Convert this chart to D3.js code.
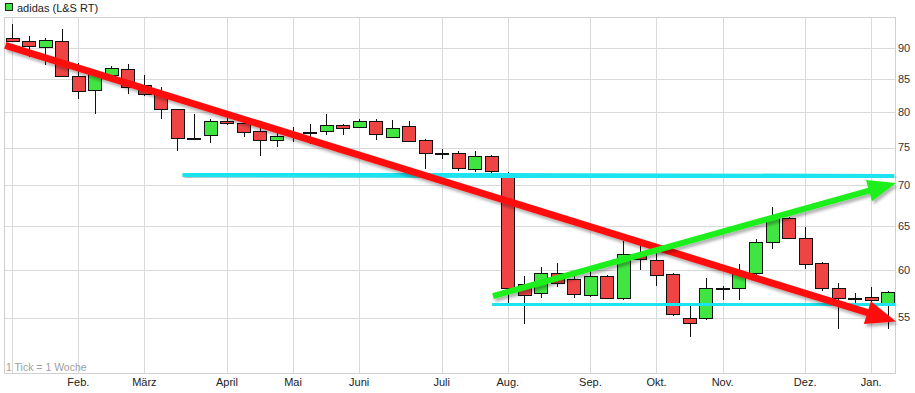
<!DOCTYPE html>
<html>
<head>
<meta charset="utf-8">
<script src="https://cdn.jsdelivr.net/npm/d3@7"></script>
<style>
    body { margin: 0; background: #fff; }
    svg { display: block; font-family: "Liberation Sans", Arial, sans-serif; }
</style>
</head>
<body>
<svg id="chart"></svg>
<script>
// weekly candles (1 Tick = 1 Woche)
const openP  = [91.7, 91.2, 90.2, 91.2, 85.5, 83.2, 85.7, 86.6, 84.1, 83.0, 80.5, 76.35, 76.7, 78.8, 78.5, 77.3, 76.1, 76.9, 77.2, 77.4, 78.2, 77.8, 78.7, 76.6, 78.0, 76.0, 74.2, 74.2, 72.2, 73.9, 71.6, 58.5, 57.6, 59.7, 59.0, 57.3, 59.3, 57.0, 61.6, 61.1, 59.5, 55.0, 54.9, 58.0, 58.0, 59.6, 63.1, 66.0, 63.6, 60.7, 58.0, 57.0, 57.1, 56.5];
const highP  = [94.0, 91.9, 91.55, 93.2, 87.5, 86.2, 87.1, 87.3, 85.6, 83.8, 80.5, 79.8, 79.0, 79.1, 78.8, 78.7, 77.2, 77.9, 78.3, 79.8, 78.3, 79.0, 79.0, 78.9, 78.8, 76.2, 74.8, 74.5, 74.6, 74.0, 71.7, 59.3, 60.3, 60.8, 59.4, 59.9, 59.4, 63.2, 62.9, 62.0, 59.7, 56.4, 59.1, 58.3, 60.6, 63.5, 67.3, 66.1, 64.9, 60.9, 58.6, 57.5, 58.1, 57.7];
const lowP   = [90.9, 88.5, 87.2, 85.3, 81.9, 79.8, 85.4, 82.7, 82.4, 79.0, 74.6, 76.0, 75.6, 78.2, 76.5, 73.9, 75.1, 75.8, 75.5, 76.8, 76.8, 77.7, 76.1, 76.3, 75.8, 72.1, 73.4, 71.9, 71.8, 71.6, 56.2, 54.4, 57.0, 58.2, 57.0, 57.1, 56.9, 56.8, 60.0, 58.3, 55.2, 53.1, 54.7, 56.8, 56.8, 59.4, 62.3, 63.5, 60.1, 57.7, 53.9, 56.5, 56.3, 53.9];
const closeP = [91.2, 90.4, 91.3, 85.5, 83.2, 85.9, 86.8, 83.8, 82.7, 80.5, 76.3, 76.3, 78.7, 78.5, 77.2, 76.1, 76.6, 76.9, 77.2, 78.2, 77.8, 78.7, 76.8, 77.8, 75.9, 74.2, 74.2, 72.2, 73.9, 71.9, 58.0, 57.3, 59.7, 58.6, 57.4, 59.3, 57.0, 61.8, 61.1, 59.4, 55.3, 54.5, 58.0, 58.0, 59.5, 63.1, 65.9, 63.6, 60.7, 58.0, 57.0, 57.0, 56.8, 57.6];

// first week of each month (week index) and its label
const monthIdx    = [0, 4, 8, 13, 17, 21, 26, 30, 35, 39, 43, 48, 52];
const monthLabels = ["", "Feb.", "März", "April", "Mai", "Juni", "Juli", "Aug.", "Sep.", "Okt.", "Nov.", "Dez.", "Jan."];

const yTicks = [55, 60, 65, 70, 75, 80, 85, 90];

// drawn lines: [week index, price]
const redTrend     = [[-0.42, 90.4], [53.5, 54.6]];
const greenTrend   = [[29.1, 57.2], [53.5, 70.3]];
const upperSupport = [[10.3, 71.4], [53.4, 71.15]];
const lowerSupport = [[29.05, 56.4], [53.45, 56.3]];

const width = 915, height = 393;
const plotLeft = 4, plotRight = 896, plotTop = 17, plotBottom = 373;

const svg = d3.select("#chart")
    .attr("width", width)
    .attr("height", height);

const defs = svg.append("defs");
defs.append("filter")
    .attr("id", "shadow")
    .attr("x", "-10%").attr("y", "-50%")
    .attr("width", "120%").attr("height", "200%")
    .append("feDropShadow")
    .attr("dx", 2).attr("dy", 3)
    .attr("stdDeviation", 1.5)
    .attr("flood-color", "#000")
    .attr("flood-opacity", 0.3);

const weeks = d3.range(openP.length);

const x = d3.scaleBand()
    .domain(weeks)
    .range([plotLeft, plotRight])
    .paddingInner(0.2)
    .paddingOuter(0.1);
// same positions, for fractional week values
const xl = d3.scaleLinear()
    .domain([-0.5, openP.length - 0.5])
    .range([plotLeft, plotRight]);
const y = d3.scaleLog()
    .domain([49.7, 95.2])
    .range([plotBottom, plotTop]);

const cx = i => x(i) + x.bandwidth() / 2;

// grid
const grid = svg.append("g").attr("shape-rendering", "crispEdges");
grid.selectAll(".hgrid")
    .data(yTicks)
    .enter()
    .append("line")
    .attr("x1", plotLeft).attr("x2", plotRight)
    .attr("y1", d => Math.round(y(d)) + 0.5)
    .attr("y2", d => Math.round(y(d)) + 0.5)
    .attr("stroke", "#dadada");
grid.selectAll(".vgrid")
    .data(monthIdx)
    .enter()
    .append("line")
    .attr("x1", d => Math.round(cx(d)) + 0.5)
    .attr("x2", d => Math.round(cx(d)) + 0.5)
    .attr("y1", plotTop).attr("y2", plotBottom)
    .attr("stroke", "#dadada");
grid.append("rect")
    .attr("x", plotLeft + 0.5).attr("y", plotTop + 0.5)
    .attr("width", plotRight - plotLeft - 1).attr("height", plotBottom - plotTop)
    .attr("fill", "none")
    .attr("stroke", "#d0d0d0");

// y labels
svg.append("g")
    .selectAll("text")
    .data(yTicks)
    .enter()
    .append("text")
    .attr("x", 898)
    .attr("y", d => y(d))
    .attr("dy", "0.35em")
    .attr("font-size", 11)
    .attr("fill", "#333")
    .text(d => d);

// month labels
svg.append("g")
    .selectAll("text")
    .data(monthIdx)
    .enter()
    .append("text")
    .attr("x", d => cx(d))
    .attr("y", 386)
    .attr("text-anchor", "middle")
    .attr("font-size", 11)
    .attr("fill", "#222")
    .text((d, i) => monthLabels[i]);

svg.append("text")
    .attr("x", 6).attr("y", 370.5)
    .attr("font-size", 10.5)
    .attr("fill", "#a0a0a0")
    .text("1 Tick = 1 Woche");

// legend
svg.append("rect")
    .attr("x", 5.5).attr("y", 3.5)
    .attr("width", 7).attr("height", 7)
    .attr("fill", "#41e541")
    .attr("stroke", "#222");
svg.append("text")
    .attr("x", 17).attr("y", 12)
    .attr("font-size", 11)
    .attr("fill", "#222")
    .text("adidas (L&S RT)");

// candles
const candles = svg.append("g").attr("shape-rendering", "crispEdges");
const cg = candles.selectAll("g")
    .data(weeks)
    .enter()
    .append("g");

cg.append("line")
    .attr("x1", d => Math.round(cx(d)) + 0.5)
    .attr("x2", d => Math.round(cx(d)) + 0.5)
    .attr("y1", d => y(highP[d]))
    .attr("y2", d => y(lowP[d]))
    .attr("stroke", "#111");

cg.append("rect")
    .attr("x", d => Math.round(x(d)) + 0.5)
    .attr("width", Math.round(x.bandwidth()))
    .attr("y", d => Math.round(y(Math.max(openP[d], closeP[d]))) + 0.5)
    .attr("height", d => Math.max(1, Math.round(Math.abs(y(openP[d]) - y(closeP[d])))))
    .attr("fill", d => closeP[d] > openP[d] ? "#41e541" : closeP[d] < openP[d] ? "#ef4444" : "#111")
    .attr("stroke", "#111");

// support lines
function drawLine(pts, color, w) {
    svg.append("line")
        .attr("x1", xl(pts[0][0])).attr("y1", y(pts[0][1]))
        .attr("x2", xl(pts[1][0])).attr("y2", y(pts[1][1]))
        .attr("stroke", color)
        .attr("stroke-width", w)
        .attr("filter", "url(#shadow)");
}

function drawArrow(pts, color, w, headLen, headHalf) {
    const x0 = xl(pts[0][0]), y0 = y(pts[0][1]);
    const x1 = xl(pts[1][0]), y1 = y(pts[1][1]);
    const len = Math.hypot(x1 - x0, y1 - y0);
    const ux = (x1 - x0) / len, uy = (y1 - y0) / len;
    const bx = x1 - ux * headLen, by = y1 - uy * headLen;
    const g = svg.append("g").attr("filter", "url(#shadow)");
    g.append("line")
        .attr("x1", x0).attr("y1", y0)
        .attr("x2", bx + ux * 2).attr("y2", by + uy * 2)
        .attr("stroke", color)
        .attr("stroke-width", w);
    g.append("path")
        .attr("d", `M${x1},${y1}L${bx - uy * headHalf},${by + ux * headHalf}L${bx + uy * headHalf},${by - ux * headHalf}Z`)
        .attr("fill", color);
}

drawLine(upperSupport, "#1fe3f0", 5);
drawLine(lowerSupport, "#1fe3f0", 5);
drawArrow(redTrend, "#ff0f0f", 7, 30, 12);
drawArrow(greenTrend, "#1bef1b", 6, 28, 11);
</script>
</body>
</html>
